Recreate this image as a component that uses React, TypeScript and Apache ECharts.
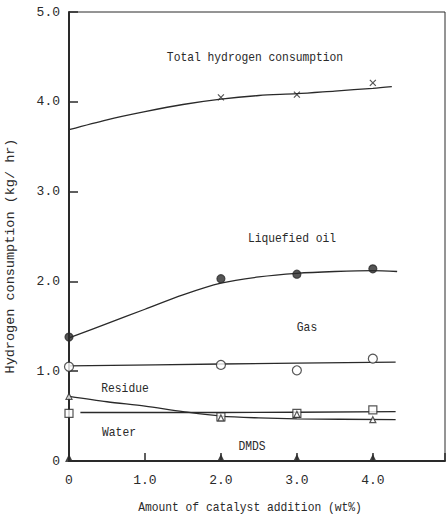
import React, { useEffect, useRef } from "react";
import * as echarts from "echarts";

// Measured points (catalyst wt% vs hydrogen consumption kg/hr)
const catalyst = [0, 2, 3, 4];
const totalPts = [null, 4.05, 4.08, 4.21];
const oilPts = [1.38, 2.03, 2.08, 2.14];
const gasPts = [1.05, 1.07, 1.01, 1.14];
const residuePts = [0.72, 0.48, 0.52, 0.46];
const waterPts = [0.53, 0.49, 0.53, 0.57];
const dmdsPts = [0.03, 0.03, 0.03, 0.03];

// Fitted trend curves
const totalFitX = [0, 0.5, 1, 1.5, 2, 2.5, 3, 3.5, 4, 4.25];
const totalFitY = [3.69, 3.8, 3.89, 3.97, 4.03, 4.07, 4.09, 4.12, 4.15, 4.17];
const oilFitX = [0, 0.5, 1, 1.5, 2, 2.5, 3, 3.5, 4, 4.32];
const oilFitY = [1.37, 1.53, 1.69, 1.85, 1.98, 2.05, 2.09, 2.11, 2.12, 2.11];
const gasFitX = [0, 2, 4.3];
const gasFitY = [1.06, 1.08, 1.1];
const residueFitX = [0, 0.5, 1, 1.5, 2, 2.5, 3, 4.3];
const residueFitY = [0.72, 0.66, 0.61, 0.55, 0.5, 0.48, 0.47, 0.46];
const waterFitX = [0.15, 2, 4.3];
const waterFitY = [0.54, 0.54, 0.55];

const xTicks = [0, 1, 2, 3, 4];
const yTicks = [0, 1, 2, 3, 4, 5];

const FONT = "'Liberation Mono', 'DejaVu Sans Mono', monospace";
const INK = "#2a2a2a";

const pairs = (xs: number[], ys: (number | null)[]) =>
  xs.map((x, i) => [x, ys[i]]).filter((p) => p[1] !== null);

const fitLine = (name: string, xs: number[], ys: number[]) => ({
  name,
  type: "line",
  data: pairs(xs, ys),
  smooth: 0.3,
  showSymbol: false,
  symbol: "none",
  lineStyle: { color: INK, width: 1.3 },
  z: 2,
});

const marks = (name: string, ys: (number | null)[], symbol: string, size: number | number[], filled: boolean) => ({
  name,
  type: "scatter",
  data: pairs(catalyst, ys),
  symbol,
  symbolSize: size,
  itemStyle: {
    color: filled ? INK : "#fff",
    borderColor: INK,
    borderWidth: 1.2,
  },
  z: 4,
});

export default function App() {
  const ref = useRef<HTMLDivElement>(null);

  useEffect(() => {
    if (!ref.current) return;
    const chart = echarts.init(ref.current, null, { renderer: "svg" });
    const fmt = (v: number) => (v === 0 ? "0" : Number.isInteger(v) ? v.toFixed(1) : "");
    // condensed typewriter-style annotation text
    const label = (text: string, x: number, y: number) => ({
      type: "text",
      x,
      y,
      scaleX: 0.87,
      style: {
        text,
        fill: INK,
        font: `13px ${FONT}`,
        textAlign: "center",
        textVerticalAlign: "middle",
      },
    });

    chart.setOption({
      animation: false,
      backgroundColor: "#fff",
      grid: {
        left: 69,
        top: 12,
        right: 2,
        bottom: 59,
        show: true,
        borderColor: INK,
        borderWidth: 1,
      },
      xAxis: {
        type: "value",
        min: 0,
        max: 4.95,
        interval: 1,
        axisLine: { lineStyle: { color: INK, width: 2 } },
        axisTick: { inside: true, length: 8, lineStyle: { color: INK, width: 1.5 } },
        axisLabel: {
          formatter: fmt,
          color: INK,
          fontFamily: FONT,
          fontSize: 13,
          margin: 13,
          customValues: xTicks,
        },
        splitLine: { show: false },
      },
      yAxis: {
        type: "value",
        min: 0,
        max: 5,
        interval: 1,
        axisLine: { show: true, lineStyle: { color: INK, width: 2 } },
        axisTick: { show: true, inside: true, length: 9, lineStyle: { color: INK, width: 1.5 } },
        axisLabel: {
          formatter: fmt,
          color: INK,
          fontFamily: FONT,
          fontSize: 13,
          margin: 9,
          customValues: yTicks,
        },
        splitLine: { show: false },
      },
      graphic: [
        label("Total hydrogen consumption", 255, 58),
        label("Liquefied oil", 292, 239),
        label("Gas", 307, 328),
        label("Residue", 125, 389),
        label("Water", 119, 433),
        label("DMDS", 252, 447),
        label("Amount of catalyst addition (wt%)", 250, 508),
        {
          type: "text",
          x: 10,
          y: 256,
          rotation: Math.PI / 2,
          style: {
            text: "Hydrogen consumption (kg/ hr)",
            fill: INK,
            font: `13.5px ${FONT}`,
            textAlign: "center",
            textVerticalAlign: "middle",
          },
        },
      ],
      series: [
        fitLine("Total fit", totalFitX, totalFitY),
        fitLine("Liquefied oil fit", oilFitX, oilFitY),
        fitLine("Gas fit", gasFitX, gasFitY),
        fitLine("Residue fit", residueFitX, residueFitY),
        fitLine("Water fit", waterFitX, waterFitY),
        marks("Total", totalPts, "path://M0,0L10,10M10,0L0,10", 6, false),
        marks("Liquefied oil", oilPts, "circle", 8, true),
        marks("Gas", gasPts, "circle", 9, false),
        marks("Water", waterPts, "rect", 8, false),
        marks("Residue", residuePts, "triangle", 6, false),
        marks("DMDS", dmdsPts, "triangle", [6, 6], true),
      ],
    });
    return () => chart.dispose();
  }, []);

  return (
    <div
      ref={ref}
      style={{ position: "fixed", left: 0, top: 0, width: 447, height: 520, background: "#fff" }}
    />
  );
}
